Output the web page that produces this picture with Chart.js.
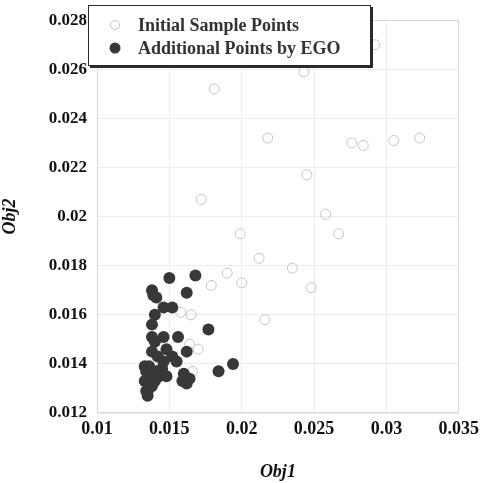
<!DOCTYPE html>
<html>
<head>
<meta charset="utf-8">
<script src="https://cdn.jsdelivr.net/npm/chart.js@4.4.1/dist/chart.umd.min.js"></script>
<style>
  html, body { margin: 0; padding: 0; background: #ffffff; }
  #wrap { width: 485px; height: 483px; position: relative; }
</style>
</head>
<body>
<div id="wrap"><canvas id="c" width="485" height="483"></canvas></div>
<script>
// ---- Data ----
const seriesNames = ["Initial Sample Points", "Additional Points by EGO"];
const axisTitles = ["Obj1", "Obj2"];

// Initial Sample Points (open circles)
const initialX = [0.0172, 0.0199, 0.0212, 0.0190, 0.0200, 0.0179, 0.0235, 0.0245, 0.0258, 0.0267,
                  0.0248, 0.0276, 0.0284, 0.0305, 0.0323, 0.0218, 0.0243, 0.0292, 0.0181,
                  0.0158, 0.0165, 0.0216, 0.0164, 0.0170, 0.0166];
const initialY = [0.0207, 0.0193, 0.0183, 0.0177, 0.0173, 0.0172, 0.0179, 0.0217, 0.0201, 0.0193,
                  0.0171, 0.0230, 0.0229, 0.0231, 0.0232, 0.0232, 0.0259, 0.0270, 0.0252,
                  0.0161, 0.0160, 0.0158, 0.0148, 0.0146, 0.0137];

// Additional Points by EGO (filled circles)
const egoX = [0.0150, 0.0168, 0.0138, 0.0139, 0.0141, 0.0162, 0.0146, 0.0152, 0.0140, 0.0138,
              0.0177, 0.0138, 0.0140, 0.0146, 0.0156, 0.0138, 0.0148, 0.0152, 0.0162, 0.0155,
              0.0133, 0.0136, 0.0141, 0.0145, 0.0143, 0.0148, 0.0135, 0.0133, 0.0138, 0.0134,
              0.0135, 0.0136, 0.0160, 0.0159, 0.0162, 0.0164, 0.0184, 0.0194, 0.0142, 0.0146,
              0.0140, 0.0134];
const egoY = [0.0175, 0.0176, 0.0170, 0.0168, 0.0167, 0.0169, 0.0163, 0.0163, 0.0160, 0.0156,
              0.0154, 0.0151, 0.0149, 0.0151, 0.0151, 0.0145, 0.0146, 0.0143, 0.0145, 0.0141,
              0.0139, 0.0139, 0.0137, 0.0138, 0.0135, 0.0135, 0.0135, 0.0133, 0.0131, 0.0129,
              0.0127, 0.0130, 0.0136, 0.0133, 0.0132, 0.0134, 0.0137, 0.0140, 0.0143, 0.0141,
              0.0133, 0.0137];

// Tick labels
const xTickLabels = ["0.01", "0.015", "0.02", "0.025", "0.03", "0.035"];
const yTickLabels = ["0.012", "0.014", "0.016", "0.018", "0.02", "0.022", "0.024", "0.026", "0.028"];
const xMin = 0.01, xMax = 0.035, xStep = 0.005;
const yMin = 0.012, yMax = 0.028, yStep = 0.002;

function toPoints(xs, ys) { return xs.map((x, i) => ({ x: x, y: ys[i] })); }

const serif = "'Liberation Serif', 'DejaVu Serif', serif";
const openColor = '#c4c4c4';
const fillColor = '#383838';

// ---- Custom boxed legend drawn inside the plot area ----
const boxLegend = {
  id: 'boxLegend',
  afterDraw(chart) {
    const ctx = chart.ctx;
    const x0 = 88, y0 = 5, w = 283, h = 61;
    ctx.save();
    // shadow
    ctx.fillStyle = '#2a2a2a';
    ctx.fillRect(x0 + 2, y0 + 2, w, h);
    ctx.fillStyle = '#ffffff';
    ctx.fillRect(x0, y0, w, h);
    ctx.strokeStyle = '#2a2a2a';
    ctx.lineWidth = 1;
    ctx.strokeRect(x0 + 0.5, y0 + 0.5, w - 1, h - 1);
    const rows = [y0 + 20, y0 + 43];
    chart.data.datasets.forEach((ds, i) => {
      const cy = rows[i];
      ctx.beginPath();
      ctx.arc(x0 + 27, cy, i === 0 ? 4.5 : 5.5, 0, Math.PI * 2);
      if (i === 0) {
        ctx.strokeStyle = ds.borderColor; ctx.lineWidth = 1; ctx.stroke();
      } else {
        ctx.fillStyle = ds.backgroundColor; ctx.fill();
      }
      ctx.fillStyle = '#333333';
      ctx.font = "bold 18px " + serif;
      ctx.textBaseline = 'middle';
      ctx.textAlign = 'left';
      ctx.fillText(ds.label, x0 + 50, cy + 1);
    });
    ctx.restore();
  }
};

// frame around plot area
const frame = {
  id: 'frame',
  beforeDatasetsDraw(chart) {
    const a = chart.chartArea, ctx = chart.ctx;
    ctx.save();
    ctx.strokeStyle = '#d8d8d8';
    ctx.lineWidth = 1;
    ctx.strokeRect(Math.round(a.left) + 0.5, Math.round(a.top) + 0.5,
                   Math.round(a.right - a.left) - 1, Math.round(a.bottom - a.top) - 1);
    ctx.restore();
  }
};

new Chart(document.getElementById('c'), {
  type: 'scatter',
  data: {
    datasets: [
      {
        label: seriesNames[0],
        data: toPoints(initialX, initialY),
        pointRadius: 5,
        pointBorderWidth: 1,
        borderColor: openColor,
        backgroundColor: 'rgba(255,255,255,0)',
        order: 2
      },
      {
        label: seriesNames[1],
        data: toPoints(egoX, egoY),
        pointRadius: 6,
        pointBorderWidth: 0,
        borderColor: fillColor,
        backgroundColor: fillColor,
        order: 1
      }
    ]
  },
  options: {
    responsive: false,
    animation: false,
    devicePixelRatio: 1,
    layout: { padding: { top: 18, right: 22, left: 0, bottom: 0 } },
    plugins: {
      legend: { display: false },
      tooltip: { enabled: false }
    },
    scales: {
      x: {
        type: 'linear',
        min: xMin, max: xMax,
        border: { display: false },
        grid: { color: '#ececec', drawTicks: false },
        ticks: {
          stepSize: xStep,
          padding: 6,
          color: '#111111',
          font: { family: serif, size: 18, weight: 'bold' },
          maxRotation: 0,
          callback: (v) => xTickLabels[Math.round((v - xMin) / xStep)]
        },
        title: {
          display: true,
          text: axisTitles[0],
          color: '#111111',
          font: { family: serif, size: 18, weight: 'bold', style: 'italic' },
          padding: { top: 30, bottom: 0 }
        },
        afterFit: (s) => { s.height = 70; }
      },
      y: {
        type: 'linear',
        min: yMin, max: yMax,
        border: { display: false },
        grid: { color: '#ececec', drawTicks: false },
        ticks: {
          stepSize: yStep,
          padding: 10,
          color: '#111111',
          font: { family: serif, size: 17, weight: 'bold' },
          callback: (v) => yTickLabels[Math.round((v - yMin) / yStep)]
        },
        title: {
          display: true,
          text: axisTitles[1],
          color: '#111111',
          font: { family: serif, size: 18, weight: 'bold', style: 'italic' },
          padding: { top: 0, bottom: 14 }
        },
        afterFit: (s) => { s.width = 97; }
      }
    }
  },
  plugins: [frame, boxLegend]
});
</script>
</body>
</html>
